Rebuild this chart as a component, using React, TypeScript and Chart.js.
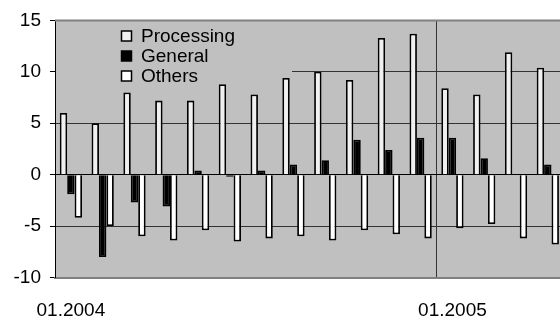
import React, { useEffect, useRef } from "react";
import { Chart, registerables } from "chart.js";

Chart.register(...registerables);

const months: string[] = [
  "01.2004", "02.2004", "03.2004", "04.2004", "05.2004", "06.2004",
  "07.2004", "08.2004", "09.2004", "10.2004", "11.2004", "12.2004",
  "01.2005", "02.2005", "03.2005", "04.2005",
];
const processing: number[] = [6.0, 5.0, 8.0, 7.2, 7.2, 8.8, 7.8, 9.4, 10.0, 9.2, 13.3, 13.7, 8.4, 7.8, 11.9, 10.4];
const general: number[] = [-1.9, -8.0, -2.7, -3.1, 0.4, -0.2, 0.4, 1.0, 1.4, 3.4, 2.4, 3.6, 3.6, 1.6, 0, 1.0];
const others: number[] = [-4.2, -5.0, -6.0, -6.4, -5.4, -6.5, -6.2, -6.0, -6.4, -5.4, -5.8, -6.2, -5.2, -4.8, -6.2, -6.8];
const seriesNames: string[] = ["Processing", "General", "Others"];
const yTicks: number[] = [-10, -5, 0, 5, 10, 15];

const FONT = "'Liberation Sans', Arial, sans-serif";
const PLOT_BG = "#c0c0c0";
const fills = ["#f0f0f0", "#000000", "#ffffff"];

const decorPlugin = {
  id: "decor",
  beforeDraw(chart: any) {
    const { ctx, chartArea } = chart;
    ctx.save();
    ctx.fillStyle = PLOT_BG;
    ctx.fillRect(chartArea.left, chartArea.top, chartArea.right - chartArea.left, chartArea.bottom - chartArea.top);
    ctx.restore();
  },
  beforeDatasetsDraw(chart: any) {
    const { ctx, chartArea } = chart;
    ctx.save();
    // legend box (covers gridlines)
    ctx.fillStyle = PLOT_BG;
    ctx.fillRect(chartArea.left + 1, 22, 292 - chartArea.left - 1, 58);
    ctx.font = `19px ${FONT}`;
    ctx.textBaseline = "middle";
    seriesNames.forEach((name, i) => {
      const cy = 36 + i * 20;
      ctx.fillStyle = fills[i];
      ctx.fillRect(121.5, cy - 5, 10, 10);
      ctx.strokeStyle = "#000";
      ctx.lineWidth = 1.5;
      ctx.strokeRect(121.5, cy - 5, 10, 10);
      ctx.fillStyle = "#000";
      ctx.fillText(name, 141, cy + 1);
    });
    // top border
    ctx.strokeStyle = "#808080";
    ctx.lineWidth = 2;
    ctx.beginPath();
    ctx.moveTo(chartArea.left, chartArea.top);
    ctx.lineTo(chartArea.right, chartArea.top);
    ctx.stroke();
    ctx.restore();
  },
};

export default function App() {
  const ref = useRef<HTMLCanvasElement | null>(null);
  useEffect(() => {
    if (!ref.current) return;
    const chart = new Chart(ref.current, {
      type: "bar",
      data: {
        labels: months,
        datasets: [
          { label: seriesNames[0], data: processing, backgroundColor: fills[0], borderColor: "#000", borderWidth: 1.8 },
          { label: seriesNames[1], data: general, backgroundColor: fills[1], borderColor: "#000", borderWidth: 1.8 },
          { label: seriesNames[2], data: others, backgroundColor: fills[2], borderColor: "#000", borderWidth: 1.8 },
        ],
      },
      options: {
        responsive: false,
        animation: false,
        layout: { padding: { top: 19, right: 6, left: 0, bottom: 0 } },
        datasets: { bar: { barPercentage: 1, categoryPercentage: 0.7 } },
        plugins: { legend: { display: false }, tooltip: { enabled: false }, title: { display: false } },
        scales: {
          x: {
            offset: true,
            grid: {
              offset: true,
              drawTicks: false,
              color: (c: any) => (c.index === 12 ? "#333333" : "rgba(0,0,0,0)"),
              lineWidth: 1,
            },
            border: { display: true, color: "#808080", width: 2 },
            ticks: {
              autoSkip: false,
              maxRotation: 0,
              padding: 22,
              color: "#000",
              font: { family: FONT, size: 19 },
              callback: (_v: any, i: number) => (months[i].startsWith("01.") ? months[i] : ""),
            },
            afterFit: (s: any) => { s.height = 42.5; },
          },
          y: {
            min: -10,
            max: 15,
            afterBuildTicks: (s: any) => { s.ticks = yTicks.map((v) => ({ value: v })); },
            grid: {
              drawTicks: true,
              tickLength: 5,
              tickColor: "#000",
              color: (c: any) => {
                const v = c.tick ? c.tick.value : null;
                if (v === 0) return "#000000";
                if (v === -10 || v === 15) return "rgba(0,0,0,0)";
                return "#333333";
              },
              lineWidth: 1,
            },
            border: { display: true, color: "#000", width: 1 },
            ticks: {
              padding: 9,
              color: "#000",
              font: { family: FONT, size: 19 },
              callback: (v: any) => String(v),
            },
            afterFit: (s: any) => { s.width = 55; },
          },
        },
      },
      plugins: [decorPlugin],
    });
    return () => chart.destroy();
  }, []);
  return (
    <div style={{ position: "fixed", left: 0, top: 0, width: 560, height: 320, overflow: "hidden", background: "#fff" }}>
      <canvas ref={ref} width={570} height={320} style={{ display: "block" }} />
    </div>
  );
}
